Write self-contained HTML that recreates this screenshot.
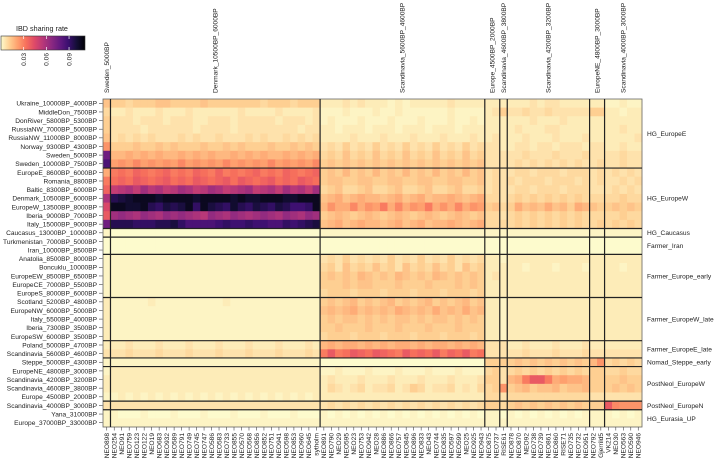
<!DOCTYPE html>
<html><head><meta charset="utf-8">
<style>
html,body{margin:0;padding:0;background:#fff;}
svg{display:block;font-family:"Liberation Sans",sans-serif;}
</style></head>
<body>
<svg id="chart" width="716" height="460" viewBox="0 0 716 460" xmlns="http://www.w3.org/2000/svg">
<defs>
<linearGradient id="lg" x1="0" x2="1" y1="0" y2="0">
<stop offset="0" stop-color="#fdfbcd"/><stop offset="0.1" stop-color="#fecf92"/><stop offset="0.2" stop-color="#fe9f6d"/><stop offset="0.3" stop-color="#f7705c"/><stop offset="0.4" stop-color="#de4968"/><stop offset="0.5" stop-color="#b73779"/><stop offset="0.6" stop-color="#8c2981"/><stop offset="0.7" stop-color="#641a80"/><stop offset="0.8" stop-color="#3b0f70"/><stop offset="0.9" stop-color="#140e36"/><stop offset="1" stop-color="#000004"/>
</linearGradient>
</defs>
<g>
<text x="16" y="31" font-size="7.2" fill="#222">IBD sharing rate</text>
<rect x="1" y="36" width="84" height="14" fill="url(#lg)" stroke="#333" stroke-width="0.6"/>
<g id="legendTicks"></g>
</g>
<g id="cells"></g>
<g id="lines"></g>
<g id="labels"></g>
</svg>
<script>
const rowLabels=["Ukraine_10000BP_4000BP","MiddleDon_7500BP","DonRiver_5800BP_5300BP","RussiaNW_7000BP_5000BP","RussiaNW_11000BP_8000BP","Norway_9300BP_4300BP","Sweden_5000BP","Sweden_10000BP_7500BP","EuropeE_8600BP_6000BP","Romania_8800BP","Baltic_8300BP_6000BP","Denmark_10500BP_6000BP","EuropeW_13500BP_8000BP","Iberia_9000BP_7000BP","Italy_15000BP_9000BP","Caucasus_13000BP_10000BP","Turkmenistan_7000BP_5000BP","Iran_10000BP_8500BP","Anatolia_8500BP_8000BP","Boncuklu_10000BP","EuropeEW_8500BP_6500BP","EuropeCE_7000BP_5500BP","EuropeS_8000BP_6000BP","Scotland_5200BP_4800BP","EuropeNW_6000BP_5000BP","Italy_5500BP_4000BP","Iberia_7300BP_3500BP","EuropeSW_6000BP_3500BP","Poland_5000BP_4700BP","Scandinavia_5600BP_4600BP","Steppe_5000BP_4300BP","EuropeNE_4800BP_3000BP","Scandinavia_4200BP_3200BP","Scandinavia_4600BP_3800BP","Europe_4500BP_2000BP","Scandinavia_4000BP_3000BP","Yana_31000BP","Europe_37000BP_33000BP"];
const colLabels=["NEO898","NEO254","NEO91","NEO759","NEO123","NEO122","NEO19","NEO683","NEO932","NEO589","NEO791","NEO749","NEO745","NEO747","NEO586","NEO583","NEO733","NEO855","NEO570","NEO568","NEO856","NEO852","NEO751","NEO941","NEO598","NEO853","NEO960","NEO645","sytholm","NEO891","NEO790","NEO29","NEO595","NEO23","NEO753","NEO942","NEO28","NEO886","NEO866","NEO757","NEO845","NEO896","NEO833","NEO43","NEO744","NEO835","NEO597","NEO599","NEO25","NEO925","NEO943","NEO875","NEO737","RISE61","NEO878","NEO870","NEO92","NEO738","NEO739","NEO861","NEO860","RISE71","NEO735","NEO732","NEO951","NEO792","Gjerrild5","VK214","NEO30","NEO563","NEO590","NEO946"];
const colGroups=["Sweden_5000BP","Denmark_10500BP_6000BP","Scandinavia_5600BP_4600BP","Europe_4500BP_2000BP","Scandinavia_4600BP_3800BP","Scandinavia_4200BP_3200BP","EuropeNE_4800BP_3000BP","Scandinavia_4000BP_3000BP"];
const colGroupSizes=[1,28,22,2,1,11,2,5];
const rowGroups=["HG_EuropeE","HG_EuropeW","HG_Caucasus","Farmer_Iran","Farmer_Europe_early","Farmer_EuropeW_late","Farmer_EuropeE_late","Nomad_Steppe_early","PostNeol_EuropeW","PostNeol_EuropeN","HG_Eurasia_UP"];
const rowGroupSizes=[8,7,1,2,5,5,2,1,4,1,2];
const legendTicks=[0.03,0.06,0.09];
const codeChars="0123456789abcdefghijklmnopqrstuvwxyz";
const codeMax=0.105;
const rowCodes=[
"6 5545556655556555555545554555 2223232221212222232222 22 2 22232332222 22 11211",
"4 2232223222322222232222322223 1112111211211111121111 23 5 33433433333 55 22122",
"5 3332333233322333233333233323 1211121112111211121121 22 2 22232223222 22 22222",
"5 3333233333323333233333333233 2212221222122212221222 22 2 23222332222 22 22322",
"6 3434343334343343334343343434 2222322232223222322232 23 2 22322232223 22 22223",
"a 5556556565556556565556556565 3435343534353435343534 33 2 23323323332 33 22322",
"q 7787878778787877878787787878 4546454645464546454645 33 3 33433343334 33 33433",
"t 9a9b9a9a9b9a9a9b9a9a9b9a9a9b 5656565656565656565656 33 3 34343434343 34 33433",
"8 cdcedcdecdcedcecdcdecdcedcde 5657565756575657565756 34 3 34434443444 34 34343",
"c dedfedefdedfedefdfedefdedfed 5665566556655665566556 34 3 43444344434 34 33434",
"e jkljmkljkmljkmljklmjkljmkljm 4564456445644564456445 34 3 34434443444 33 34343",
"l wxyzzzyzzzzyzzzzyzyyzzzyyzzz 6786787767867867787678 44 3 45454545454 44 44544",
"h zzyyzwvxwxzvzxwvywvxwvxwuuvz 7a88b8a9c8b8a9c8a8b8a9 56 4 58676867587 65 56565",
"f mnmlnmlnmnmlknmlnmlmnmlnmlnm 5676567656765676567656 44 3 45454545454 44 44544",
"q wwwvvvwwxvttttuvuuvuuttvuvwx 6786787767867867787678 44 4 45454545454 45 45454",
"1 0000000000000000000000000000 1111111111111111111111 11 1 11111111111 11 11111",
"0 0000000000000000000000000000 0000000000000000000000 00 0 00000000000 00 00000",
"0 0000000000000000000000000000 0000000000000000000000 00 0 00000000000 00 00000",
"1 1111111111111111111111111111 3435343435343534353434 22 1 22222222222 22 22222",
"1 1111111111111111111111111111 4536454645364546453645 22 2 22122212221 22 22122",
"1 1111111111111111111111111111 5656576565765657656565 23 2 22222222222 22 22222",
"1 1111111111111111111111111111 5556566555655565556565 22 2 22222222222 22 22222",
"1 1111111111111111111111111111 4555455545554555455545 22 2 22222222222 22 22222",
"2 1111121111111112111111111111 5656756567565675656756 22 1 22222222222 22 22222",
"2 1111111111111111111111111111 6767867676876768676867 22 1 22222222222 22 22222",
"2 1111111111111111111111111111 5656656565665656656565 22 1 22222222222 22 22222",
"2 1111111111111111111111111111 5565556555655565556555 22 1 22222222222 22 22222",
"2 1111111111111111111111111111 4555455545554555455545 22 1 22222222222 22 22222",
"2 2232223222322232223222322232 7878878787887878878787 33 3 22322232223 22 22222",
"3 3343334333433343334333433343 cfcdfedfedcfdedfcedfcd 33 3 33433343334 33 33333",
"1 1111111111111111111111111111 0000000000000000000000 55 5 56565656565 7a 45454",
"1 2222222222222222222222222222 1121112111211121112111 45 3 45454545454 55 44544",
"2 2222222222222222222222222222 2322232223222322232223 55 3 78cffc89887 55 55655",
"2 2222222222222222222222222222 2432342334235423342324 45 a 56756675667 55 56565",
"1 1212121212121212121212121212 2222222222222222222222 44 3 44444444444 33 33333",
"3 3333333333333333333333333333 3434343434343434343434 55 4 56565656565 55 fbaaa",
"1 1000100010001000100010001000 1010101010101010101010 11 0 10101010101 11 10101",
"1 1111111111111111111111111111 1111111111111111111111 11 1 11111111111 11 11111"
];
const NS="http://www.w3.org/2000/svg";
const X0=103,X1=642,Y0=99,Y1=427,VMAX=0.111;
const nC=colLabels.length,nR=rowLabels.length;
const cw=(X1-X0)/nC,rh=(Y1-Y0)/nR;
const xPos=i=>X0+i*cw, yPos=j=>Y0+j*rh;
const stops=[[0,"#000004"],[0.1,"#140e36"],[0.2,"#3b0f70"],[0.3,"#641a80"],[0.4,"#8c2981"],[0.5,"#b73779"],[0.6,"#de4968"],[0.7,"#f7705c"],[0.8,"#fe9f6d"],[0.9,"#fecf92"],[1,"#fdfbcd"]];
function hex(h){return [1,3,5].map(k=>parseInt(h.substr(k,2),16));}
function color(v){let t=1-Math.max(0,Math.min(1,v/VMAX));for(let k=0;k<stops.length-1;k++){if(t<=stops[k+1][0]){const f=(t-stops[k][0])/(stops[k+1][0]-stops[k][0]);const a=hex(stops[k][1]),b=hex(stops[k+1][1]);return "rgb("+a.map((x,q)=>Math.round(x+(b[q]-x)*f)).join(",")+")";}}return stops[10][1];}
function mk(tag,attrs,parent){const e=document.createElementNS(NS,tag);for(const k in attrs)e.setAttribute(k,attrs[k]);parent.appendChild(e);return e;}
function decode(ch){const i=Math.max(0,codeChars.indexOf(ch));return Math.pow(i/35,1.15)*codeMax;}
const values=rowCodes.map(s=>{const c=s.replace(/ /g,"");const r=[];for(let i=0;i<nC;i++){r.push(decode(c[i]||"0"));}return r;});
const gCells=document.getElementById("cells"),gLines=document.getElementById("lines"),gLab=document.getElementById("labels");
const FS=6.6;
values.forEach((row,j)=>row.forEach((v,i)=>{
 const r=mk("rect",{x:xPos(i).toFixed(2),y:yPos(j).toFixed(2),width:(cw+0.4).toFixed(2),height:(rh+0.4).toFixed(2),fill:color(v)},gCells);
 
 
}));
const border=mk("rect",{x:X0,y:Y0,width:X1-X0,height:Y1-Y0,fill:"none",stroke:"#666","stroke-width":0.8},gLines);


let acc=0;
colGroupSizes.forEach((n,g)=>{
 const start=acc;acc+=n;
 if(acc<nC){const l=mk("line",{x1:xPos(acc),x2:xPos(acc),y1:Y0,y2:Y1,stroke:"#222","stroke-width":1.2},gLines);
 
 }
 const cx=xPos(start+n/2)+2.3;
 const t=mk("text",{x:0,y:0,transform:"translate("+cx.toFixed(1)+",93) rotate(-90)","font-size":FS,fill:"#222"},gLab);
 t.textContent=colGroups[g];
 
 
});
acc=0;
rowGroupSizes.forEach((n,g)=>{
 const start=acc;acc+=n;
 if(acc<nR){const l=mk("line",{x1:X0,x2:X1,y1:yPos(acc),y2:yPos(acc),stroke:"#222","stroke-width":1.2},gLines);
 
 }
 const cy=yPos(start+n/2)+2.4;
 const t=mk("text",{x:647,y:cy.toFixed(1),"font-size":FS,fill:"#222"},gLab);
 t.textContent=rowGroups[g];
 
 
});
rowLabels.forEach((s,j)=>{
 const y=yPos(j+0.5);
 mk("line",{x1:99,x2:102.5,y1:y,y2:y,stroke:"#444","stroke-width":0.6},gLab);
 const t=mk("text",{x:97,y:(y+2.4).toFixed(1),"text-anchor":"end","font-size":FS,fill:"#222"},gLab);
 t.textContent=s;
 
 
});
colLabels.forEach((s,i)=>{
 const x=xPos(i+0.5);
 mk("line",{x1:x,x2:x,y1:Y1,y2:Y1+3.5,stroke:"#444","stroke-width":0.6},gLab);
 const t=mk("text",{x:0,y:0,transform:"translate("+(x+2.3).toFixed(1)+",433) rotate(-90)","text-anchor":"end","font-size":FS,fill:"#222"},gLab);
 t.textContent=s;
 
 
});
const gLT=document.getElementById("legendTicks");
legendTicks.forEach(v=>{
 const x=1+84*v/VMAX*0.999;
 mk("line",{x1:x,x2:x,y1:36,y2:39,stroke:"#fff","stroke-width":0.7},gLT);
 mk("line",{x1:x,x2:x,y1:47,y2:50,stroke:"#fff","stroke-width":0.7},gLT);
 const t=mk("text",{x:0,y:0,transform:"translate("+(x+2.3).toFixed(1)+",53) rotate(-90)","text-anchor":"end","font-size":FS,fill:"#222"},gLT);
 t.textContent=v.toFixed(2);
 
 
});
</script>
</body></html>
